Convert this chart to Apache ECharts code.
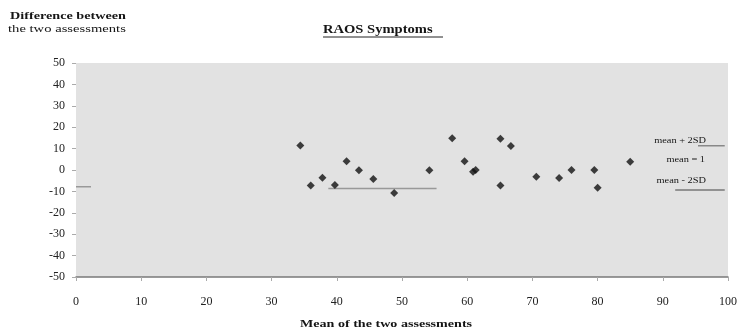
<!DOCTYPE html>
<html>
<head>
<meta charset="utf-8">
<script src="https://cdn.jsdelivr.net/npm/echarts@6/dist/echarts.min.js"></script>
<style>
  html, body { margin: 0; padding: 0; background: #fff; }
  #chart { width: 743px; height: 333px; }
</style>
</head>
<body>
<div id="chart"></div>
<script>
// mean of the two assessments (x) and their difference (y)
var meanVals = [34.4, 36.0, 37.8, 39.7, 41.5, 43.4, 45.6, 48.8, 54.2, 57.7, 59.6, 60.9, 61.3,
                65.1, 66.7, 65.1, 70.6, 74.1, 76.0, 79.5, 80.0, 85.0];
var diffVals = [11.4, -7.3, -3.6, -7.0, 4.1, -0.1, -4.2, -10.8, -0.1, 14.8, 4.1, -0.8, 0,
                14.6, 11.2, -7.3, -3.1, -3.7, 0, 0, -8.3, 3.9];

// reference lines as drawn on the original sheet
var leftLine = [[0, -7.8], [2.3, -7.8]];
var midLine = [[38.7, -8.7], [55.3, -8.7]];
var upperLine = [[95.4, 11.3], [99.5, 11.3]];
var lowerLine = [[91.9, -9.4], [99.5, -9.4]];

var xTicks = [0, 10, 20, 30, 40, 50, 60, 70, 80, 90, 100];
var yTicks = [-50, -40, -30, -20, -10, 0, 10, 20, 30, 40, 50];

var points = [];
for (var i = 0; i < meanVals.length; i++) {
    points.push([meanVals[i], diffVals[i]]);
}

var serif = "'Liberation Serif', 'DejaVu Serif', serif";
var myChart = echarts.init(document.getElementById('chart'));

function refLine(data, color) {
    return {
        type: 'line',
        data: data,
        symbol: 'none',
        silent: true,
        lineStyle: { color: color, width: 1.5 },
        z: 1
    };
}

// stretched text, the original is wider than the serif font
function label(text, x, y, font, sx, align) {
    return {
        type: 'text',
        x: x,
        y: y,
        scaleX: sx,
        style: {
            text: text,
            font: font,
            fill: '#151515',
            align: align || 'left',
            verticalAlign: 'middle'
        }
    };
}

myChart.setOption({
    animation: false,
    graphic: [
        label('RAOS Symptoms', 323, 30, 'bold 13px ' + serif, 1.12),
        { type: 'line', shape: { x1: 323, y1: 37, x2: 443, y2: 37 }, style: { stroke: '#222', lineWidth: 1 } },
        label('Difference between', 10, 16, 'bold 11px ' + serif, 1.29),
        label('the two assessments', 8, 29, '11px ' + serif, 1.33),
        label('Mean of the two assessments', 300, 324, 'bold 11px ' + serif, 1.28),
        label('mean + 2SD', 706, 141, '9px ' + serif, 1.15, 'right'),
        label('mean = 1', 705, 160, '9px ' + serif, 1.15, 'right'),
        label('mean - 2SD', 706, 181, '9px ' + serif, 1.15, 'right')
    ],
    grid: {
        left: 76,
        right: 15,
        top: 63,
        bottom: 56,
        show: true,
        backgroundColor: '#e2e2e2',
        borderWidth: 0
    },
    xAxis: {
        type: 'value',
        min: xTicks[0],
        max: xTicks[xTicks.length - 1],
        interval: 10,
        axisLine: { onZero: false, lineStyle: { color: '#7a7a7a', width: 1.5 } },
        axisTick: { length: 4, lineStyle: { color: '#aaa' } },
        axisLabel: { fontFamily: serif, fontSize: 12, color: '#222', margin: 19 },
        splitLine: { show: false }
    },
    yAxis: {
        type: 'value',
        min: yTicks[0],
        max: yTicks[yTicks.length - 1],
        interval: 10,
        axisLine: { show: false },
        axisTick: { show: true, length: 4, lineStyle: { color: '#aaa' } },
        axisLabel: { fontFamily: serif, fontSize: 12, color: '#222', margin: 11 },
        splitLine: { show: false }
    },
    series: [
        refLine(leftLine, '#999'),
        refLine(midLine, '#999'),
        refLine(upperLine, '#888'),
        refLine(lowerLine, '#777'),
        {
            type: 'scatter',
            data: points,
            symbol: 'diamond',
            symbolSize: 8,
            itemStyle: { color: '#111' },
            z: 3
        }
    ]
});
</script>
</body>
</html>
